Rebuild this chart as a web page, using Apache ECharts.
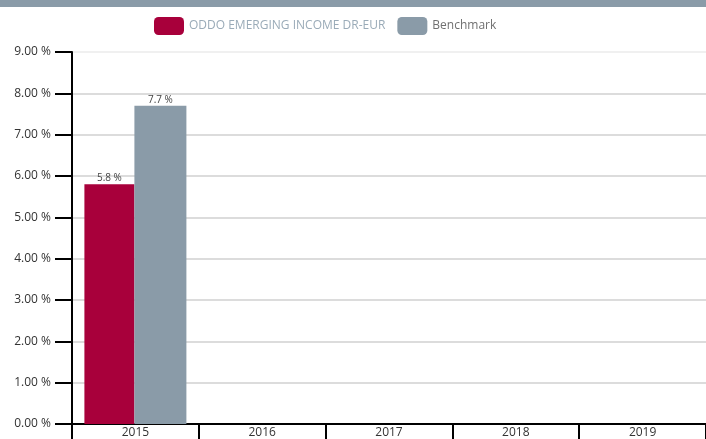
<!DOCTYPE html>
<html><head><meta charset="utf-8">
<script src="https://cdn.jsdelivr.net/npm/echarts@6/dist/echarts.min.js"></script>
<style>html,body{margin:0;padding:0;background:#fff}#c{width:706px;height:439px}</style>
</head><body><div id="c"></div>
<script>
const categories = ['2015','2016','2017','2018','2019'];
const fundName = 'ODDO EMERGING INCOME DR-EUR';
const benchName = 'Benchmark';
const fundValues = [5.8, null, null, null, null];
const benchValues = [7.7, null, null, null, null];

const chart = echarts.init(document.getElementById('c'));
const font = 'Open Sans';
chart.setOption({
  animation: false,
  textStyle: {fontFamily: font},
  graphic: [{type:'rect', shape:{x:0,y:0,width:706,height:7}, style:{fill:'#8a9ba8'}}],
  legend: {
    top: 12, left: 149, itemWidth: 30, itemHeight: 18, itemGap: 12,
    icon: 'roundRect',
    data: [
      {name: fundName, textStyle:{color:'#9aabb8'}},
      {name: benchName, textStyle:{color:'#707070'}}
    ],
    textStyle: {fontSize: 12, fontFamily: font},
    selectedMode: false
  },
  grid: {left: 72, top: 52, width: 638, height: 373},
  xAxis: {
    type: 'category', data: categories,
    axisLine: {lineStyle:{color:'#000', width:2}},
    axisTick: {show: true, inside: false, length: 16, interval: 0, lineStyle:{color:'#000', width:2}},
    axisLabel: {color:'#333', fontSize: 12, margin: 3, fontFamily: font}
  },
  yAxis: {
    type: 'value', min: 0, max: 9, interval: 1,
    axisLine: {show: true, lineStyle:{color:'#000', width:2}},
    axisTick: {show: true, length: 17, lineStyle:{color:'#000', width:2}},
    axisLabel: {color:'#333', fontSize: 12, margin: 21, fontFamily: font,
      formatter: v => v.toFixed(2) + ' %'},
    splitLine: {lineStyle:{color:['#d0d0d0','#d0d0d0','#d0d0d0','#d0d0d0','#d0d0d0','#d0d0d0','#d0d0d0','#d0d0d0','#d0d0d0','#ebebeb'], width:1.5}}
  },
  series: [
    {name: fundName, type: 'bar', data: fundValues, barWidth: 50, barGap: 0,
     itemStyle:{color:'#a8003b'},
     label:{show:true, position:'top', distance:1, fontSize:10, color:'#444', formatter: p => p.value + ' %'}},
    {name: benchName, type: 'bar', data: benchValues, barWidth: 52,
     itemStyle:{color:'#8a9ba8'},
     label:{show:true, position:'top', distance:1, fontSize:10, color:'#444', formatter: p => p.value + ' %'}}
  ]
});
</script></body></html>
